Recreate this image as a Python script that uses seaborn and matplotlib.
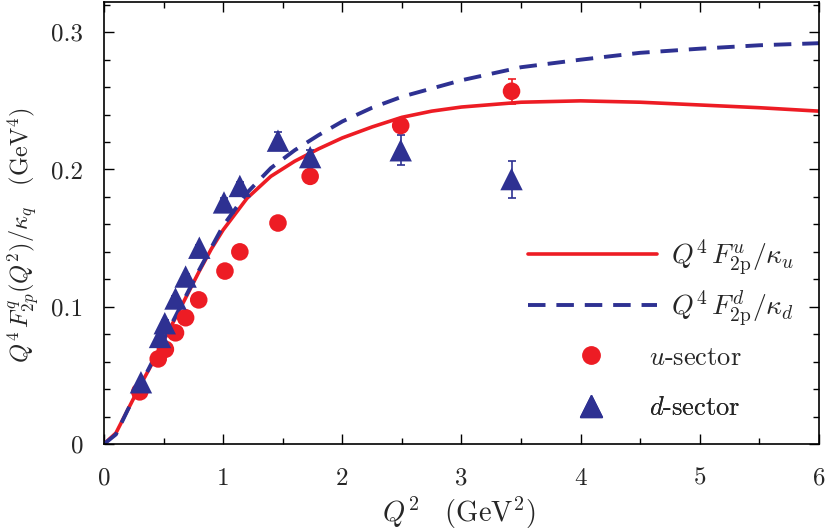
import numpy as np
import pandas as pd
import matplotlib
matplotlib.use("Agg")
import matplotlib.pyplot as plt
import seaborn as sns
from matplotlib.ticker import MultipleLocator
from matplotlib.lines import Line2D

# curves
q2_curve = [0, 0.1, 0.2, 0.3, 0.4, 0.5, 0.6, 0.7, 0.8, 0.9, 1.0, 1.2, 1.4, 1.6, 1.8,
            2.0, 2.25, 2.5, 2.75, 3.0, 3.5, 4.0, 4.5, 5.0, 5.5, 6.0]
u_curve = [0, 0.008, 0.025, 0.042, 0.058, 0.075, 0.092, 0.109, 0.126, 0.142, 0.156,
           0.179, 0.195, 0.206, 0.215, 0.223, 0.231, 0.238, 0.2425, 0.2455, 0.249,
           0.250, 0.249, 0.247, 0.245, 0.2425]
d_curve = [0, 0.007, 0.025, 0.042, 0.059, 0.076, 0.093, 0.110, 0.127, 0.143, 0.159,
           0.183, 0.201, 0.214, 0.225, 0.235, 0.245, 0.253, 0.259, 0.265, 0.2745,
           0.280, 0.285, 0.288, 0.2905, 0.292]

# lattice points
u_q2 = [0.30, 0.455, 0.515, 0.60, 0.685, 0.795, 1.015, 1.14, 1.46, 1.73, 2.49, 3.42]
u_val = [0.038, 0.062, 0.069, 0.081, 0.092, 0.105, 0.126, 0.140, 0.161, 0.195, 0.232, 0.257]
u_err = [0.002, 0.002, 0.002, 0.002, 0.002, 0.002, 0.002, 0.002, 0.003, 0.003, 0.004, 0.009]

d_q2 = [0.31, 0.47, 0.51, 0.60, 0.685, 0.80, 1.007, 1.14, 1.46, 1.73, 2.49, 3.42]
d_val = [0.045, 0.078, 0.088, 0.106, 0.122, 0.143, 0.176, 0.188, 0.221, 0.209, 0.214, 0.193]
d_err = [0.002, 0.002, 0.002, 0.002, 0.002, 0.002, 0.003, 0.003, 0.006, 0.005, 0.011, 0.0135]

x_ticks = [0, 1, 2, 3, 4, 5, 6]
x_ticklabels = ["0", "1", "2", "3", "4", "5", "6"]
y_ticks = [0, 0.1, 0.2, 0.3]
y_ticklabels = ["0", "0.1", "0.2", "0.3"]

red = "#ed1c24"
blue = "#2e3192"

sns.set_style("ticks")
plt.rcParams["font.family"] = "serif"
plt.rcParams["font.serif"] = ["cmr10", "DejaVu Serif"]
plt.rcParams["mathtext.fontset"] = "cm"
plt.rcParams["axes.formatter.use_mathtext"] = True
plt.rcParams["axes.unicode_minus"] = False

curves = pd.DataFrame({"q2": q2_curve, "u": u_curve, "d": d_curve})
pts_u = pd.DataFrame({"q2": u_q2, "val": u_val, "err": u_err})
pts_d = pd.DataFrame({"q2": d_q2, "val": d_val, "err": d_err})

fig = plt.figure(figsize=(8.3, 5.31), dpi=100)
ax = fig.add_axes([0.1253, 0.1638, 0.8614, 0.8324])

sns.lineplot(data=curves, x="q2", y="u", color=red, lw=2.6, ax=ax, zorder=2)
sns.lineplot(data=curves, x="q2", y="d", color=blue, lw=2.8, ax=ax, zorder=2)
ax.lines[-1].set_dashes((4.5, 2.8))

ax.errorbar(pts_u["q2"], pts_u["val"], yerr=pts_u["err"], fmt="none",
            ecolor=red, elinewidth=1.2, capsize=3, capthick=1.2, zorder=3)
ax.errorbar(pts_d["q2"], pts_d["val"], yerr=pts_d["err"], fmt="none",
            ecolor=blue, elinewidth=1.2, capsize=3, capthick=1.2, zorder=3)
sns.scatterplot(data=pts_u, x="q2", y="val", color=red, marker="o", s=160,
                edgecolor="none", ax=ax, zorder=4)
sns.scatterplot(data=pts_d, x="q2", y="val", color=blue, marker="^", s=260,
                edgecolor="none", ax=ax, zorder=5)

ax.set_xlim(0, 6)
ax.set_ylim(0, 0.322)
ax.set_xticks(x_ticks)
ax.set_xticklabels(x_ticklabels)
ax.set_yticks(y_ticks)
ax.set_yticklabels(y_ticklabels)
ax.xaxis.set_minor_locator(MultipleLocator(0.5))
ax.yaxis.set_minor_locator(MultipleLocator(0.02))
ax.tick_params(which="both", direction="in", top=True, right=True,
               labelsize=18, width=1.0, color="black")
ax.tick_params(which="major", length=7)
ax.tick_params(which="minor", length=4)
ax.tick_params(axis="y", which="major", pad=15)
ax.tick_params(axis="x", which="major", pad=17)
for sp in ax.spines.values():
    sp.set_linewidth(1.2)
    sp.set_color("black")

ax.set_xlabel(r"$Q^2\quad(\mathrm{GeV}^2)$", fontsize=20.5)
ax.xaxis.set_label_coords(0.4958, -0.116)
ax.set_ylabel(r"$Q^4\,F_{2p}^{q}(Q^2)/\kappa_q\quad(\mathrm{GeV}^4)$", fontsize=17.5)
ax.yaxis.set_label_coords(-0.087, 0.472)

# legend: one row per entry so the rows sit evenly like the original
rows = [
    (Line2D([], [], color=red, lw=2.6), r"$Q^4\,F_{2\mathrm{p}}^{u}/\kappa_u$", 0.423, 20),
    (Line2D([], [], color=blue, lw=2.8, dashes=(4.5, 2.8)),
     r"$Q^4\,F_{2\mathrm{p}}^{d}/\kappa_d$", 0.308, 20),
    (Line2D([], [], color=red, marker="o", ls="none", markersize=12.5),
     r"$u$-sector", 0.195, 19),
    (Line2D([], [], color=blue, marker="^", ls="none", markersize=16),
     r"$d$-sector", 0.081, 19),
]
for i, (h, lab, yc, fs) in enumerate(rows):
    if i < 2:
        x0, hl, pad = 0.593, 4.65, 0.5
    else:
        x0, hl, pad = 0.6448, 2.0, 1.2
    leg = ax.legend([h], [lab], loc="center left", bbox_to_anchor=(x0, yc),
                    borderaxespad=0, borderpad=0, frameon=False, fontsize=fs,
                    handlelength=hl, handletextpad=pad)
    ax.add_artist(leg)

fig.savefig("out.png", dpi=100)
